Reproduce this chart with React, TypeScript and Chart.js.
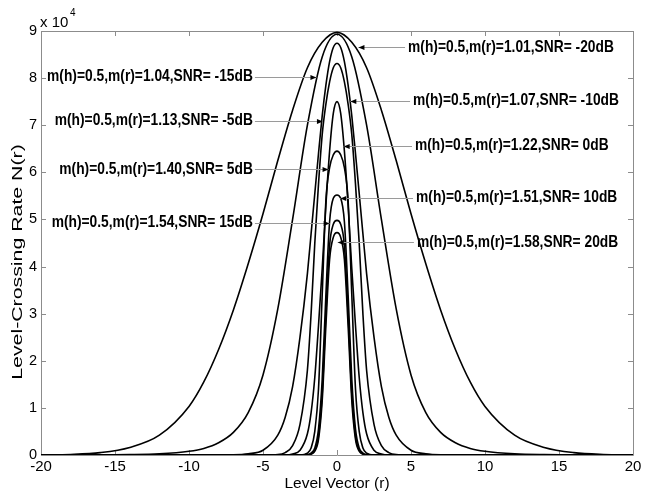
import React, { useEffect, useRef } from 'react';
import { Chart, registerables } from 'chart.js';

Chart.register(...registerables);

// ---- level vector grids ----
const wideR = [-20, -18, -16, -14, -12, -10, -9, -8, -7, -6, -5, -4, -3, -2, -1, 0, 1, 2, 3, 4, 5, 6, 7, 8, 9, 10, 12, 14, 16, 18, 20];
const narrowR = [-20, -10, -7, -6, -5, -4, -3.5, -3, -2.5, -2, -1.75, -1.5, -1.25, -1, -0.75, -0.5, -0.25, 0, 0.25, 0.5, 0.75, 1, 1.25, 1.5, 1.75, 2, 2.5, 3, 3.5, 4, 5, 6, 7, 10, 20];

// ---- level-crossing rate N(r), in units of 10^4 ----
const lcrSnrM20 = [0.002, 0.012, 0.05, 0.16, 0.42, 1.03, 1.55, 2.24, 3.08, 4.06, 5.12, 6.25, 7.32, 8.22, 8.76, 8.97, 8.76, 8.22, 7.32, 6.25, 5.12, 4.06, 3.08, 2.24, 1.55, 1.03, 0.42, 0.16, 0.05, 0.012, 0.002];
const lcrSnrM15 = [0, 0, 0.002, 0.007, 0.025, 0.08, 0.14, 0.26, 0.48, 0.9, 1.7, 3.1, 5.0, 7.0, 8.45, 8.93, 8.45, 7.0, 5.0, 3.1, 1.7, 0.9, 0.48, 0.26, 0.14, 0.08, 0.025, 0.007, 0.002, 0, 0];
const lcrSnrM10 = [0, 0, 0.005, 0.025, 0.1, 0.42, 0.8, 1.45, 2.5, 3.85, 4.7, 5.55, 6.4, 7.2, 7.85, 8.35, 8.65, 8.74, 8.65, 8.35, 7.85, 7.2, 6.4, 5.55, 4.7, 3.85, 2.5, 1.45, 0.8, 0.42, 0.1, 0.025, 0.005, 0, 0];
const lcrSnrM5 = [0, 0, 0, 0, 0.002, 0.01, 0.05, 0.2, 0.65, 1.8, 3.0, 4.5, 5.75, 6.8, 7.45, 7.92, 8.22, 8.31, 8.22, 7.92, 7.45, 6.8, 5.75, 4.5, 3.0, 1.8, 0.65, 0.2, 0.05, 0.01, 0.002, 0, 0, 0, 0];
const lcrSnr0 = [0, 0, 0, 0, 0, 0, 0, 0.02, 0.1, 0.45, 0.9, 1.65, 2.75, 3.95, 5.3, 6.45, 7.25, 7.5, 7.25, 6.45, 5.3, 3.95, 2.75, 1.65, 0.9, 0.45, 0.1, 0.02, 0, 0, 0, 0, 0, 0, 0];
const lcrSnr5 = [0, 0, 0, 0, 0, 0, 0, 0, 0, 0.04, 0.15, 0.5, 1.4, 3.4, 5.4, 6.1, 6.37, 6.45, 6.37, 6.1, 5.4, 3.4, 1.4, 0.5, 0.15, 0.04, 0, 0, 0, 0, 0, 0, 0, 0, 0];
const lcrSnr10 = [0, 0, 0, 0, 0, 0, 0, 0, 0, 0.01, 0.04, 0.15, 0.55, 1.6, 3.4, 4.95, 5.45, 5.52, 5.45, 4.95, 3.4, 1.6, 0.55, 0.15, 0.04, 0.01, 0, 0, 0, 0, 0, 0, 0, 0, 0];
const lcrSnr15 = [0, 0, 0, 0, 0, 0, 0, 0, 0, 0, 0.02, 0.1, 0.4, 1.3, 3.0, 4.45, 4.9, 4.98, 4.9, 4.45, 3.0, 1.3, 0.4, 0.1, 0.02, 0, 0, 0, 0, 0, 0, 0, 0, 0, 0];
const lcrSnr20 = [0, 0, 0, 0, 0, 0, 0, 0, 0, 0, 0.02, 0.08, 0.33, 1.15, 2.75, 4.15, 4.62, 4.72, 4.62, 4.15, 2.75, 1.15, 0.33, 0.08, 0.02, 0, 0, 0, 0, 0, 0, 0, 0, 0, 0];

// ---- axes ----
const xTickValues = [-20, -15, -10, -5, 0, 5, 10, 15, 20];
const yTickValues = [0, 1, 2, 3, 4, 5, 6, 7, 8, 9];
const xTitle = 'Level Vector (r)';
const yTitle = 'Level-Crossing Rate N(r)';
const yExpBase = 'x 10';
const yExpPower = '4';

// ---- annotations ----
const annTexts = [
  'm(h)=0.5,m(r)=1.01,SNR= -20dB',
  'm(h)=0.5,m(r)=1.04,SNR= -15dB',
  'm(h)=0.5,m(r)=1.07,SNR= -10dB',
  'm(h)=0.5,m(r)=1.13,SNR= -5dB',
  'm(h)=0.5,m(r)=1.22,SNR= 0dB',
  'm(h)=0.5,m(r)=1.40,SNR= 5dB',
  'm(h)=0.5,m(r)=1.51,SNR= 10dB',
  'm(h)=0.5,m(r)=1.54,SNR= 15dB',
  'm(h)=0.5,m(r)=1.58,SNR= 20dB',
];
const annSide = ['right', 'left', 'right', 'left', 'right', 'left', 'right', 'left', 'right'];
const annLevel = [8.66, 8.03, 7.52, 7.09, 6.56, 6.07, 5.46, 4.93, 4.52];
const annTipR = [1.45, -1.39, 0.9, -0.95, 0.45, -0.57, 0.22, -0.5, 0.05];
const annTextR = [4.8, -5.68, 5.14, -5.68, 5.27, -5.68, 5.34, -5.68, 5.4];

const curves: [number[], number[]][] = [
  [wideR, lcrSnrM20],
  [wideR, lcrSnrM15],
  [narrowR, lcrSnrM10],
  [narrowR, lcrSnrM5],
  [narrowR, lcrSnr0],
  [narrowR, lcrSnr5],
  [narrowR, lcrSnr10],
  [narrowR, lcrSnr15],
  [narrowR, lcrSnr20],
];

const FONT = '"Liberation Sans", Arial, Helvetica, sans-serif';
const AXIS_GRAY = '#8c8c8c';

const boxPlugin = {
  id: 'boxPlugin',
  beforeDatasetsDraw(chart: any) {
    const { ctx, chartArea: a, scales } = chart;
    const xs = scales.x;
    const ys = scales.y;
    ctx.save();
    ctx.strokeStyle = AXIS_GRAY;
    ctx.lineWidth = 1;
    ctx.beginPath();
    ctx.rect(Math.round(a.left) + 0.5, Math.round(a.top) + 0.5, Math.round(a.right - a.left), Math.round(a.bottom - a.top));
    ctx.stroke();
    const tl = 5;
    ctx.beginPath();
    xTickValues.forEach((v) => {
      const px = Math.round(xs.getPixelForValue(v)) + 0.5;
      ctx.moveTo(px, a.bottom);
      ctx.lineTo(px, a.bottom - tl);
      ctx.moveTo(px, a.top);
      ctx.lineTo(px, a.top + tl);
    });
    yTickValues.forEach((v) => {
      const py = Math.round(ys.getPixelForValue(v)) + 0.5;
      ctx.moveTo(a.left, py);
      ctx.lineTo(a.left + tl, py);
      ctx.moveTo(a.right, py);
      ctx.lineTo(a.right - tl, py);
    });
    ctx.stroke();
    ctx.restore();
  },
  afterDatasetsDraw(chart: any) {
    const { ctx, chartArea: a, scales } = chart;
    const xs = scales.x;
    const ys = scales.y;
    ctx.save();
    ctx.fillStyle = '#000';
    // tick labels
    ctx.font = `14.5px ${FONT}`;
    ctx.textBaseline = 'middle';
    ctx.textAlign = 'right';
    yTickValues.forEach((v) => {
      ctx.fillText(String(v), a.left - 4, ys.getPixelForValue(v));
    });
    ctx.textAlign = 'center';
    ctx.font = `15px ${FONT}`;
    xTickValues.forEach((v) => {
      ctx.fillText(String(v), xs.getPixelForValue(v), a.bottom + 12);
    });
    // axis titles
    ctx.font = `15.5px ${FONT}`;
    ctx.fillText(xTitle, (a.left + a.right) / 2, a.bottom + 29);
    ctx.save();
    ctx.translate(17.5, 262);
    ctx.rotate(-Math.PI / 2);
    ctx.scale(1.42, 1);
    ctx.font = `15px ${FONT}`;
    ctx.fillText(yTitle, 0, 0);
    ctx.restore();
    // exponent
    ctx.textAlign = 'left';
    ctx.font = `15px ${FONT}`;
    ctx.fillText(yExpBase, a.left - 1, 23);
    ctx.font = `10px ${FONT}`;
    ctx.fillText(yExpPower, a.left + 29, 13);
    // annotations
    ctx.font = `bold 13.8px ${FONT}`;
    annTexts.forEach((t, i) => {
      const py = ys.getPixelForValue(annLevel[i]);
      const tipX = xs.getPixelForValue(annTipR[i]);
      const tx = xs.getPixelForValue(annTextR[i]);
      let lineStart: number;
      ctx.save();
      ctx.translate(tx, py);
      ctx.scale(1, 1.18);
      ctx.fillStyle = '#000';
      if (annSide[i] === 'left') {
        ctx.textAlign = 'right';
        ctx.fillText(t, 0, 0);
        lineStart = tx + 2;
      } else {
        ctx.textAlign = 'left';
        ctx.fillText(t, 0, 0);
        lineStart = tx - 3;
      }
      ctx.restore();
      const py2 = Math.round(py) + 0.5;
      ctx.strokeStyle = '#9a9a9a';
      ctx.lineWidth = 1;
      ctx.beginPath();
      ctx.moveTo(lineStart, py2);
      ctx.lineTo(tipX, py2);
      ctx.stroke();
      const dir = annSide[i] === 'left' ? 1 : -1;
      ctx.fillStyle = '#000';
      ctx.beginPath();
      ctx.moveTo(tipX, py2);
      ctx.lineTo(tipX - dir * 6, py2 - 2.5);
      ctx.lineTo(tipX - dir * 6, py2 + 2.5);
      ctx.closePath();
      ctx.fill();
    });
    ctx.restore();
  },
};

export default function App() {
  const ref = useRef<HTMLCanvasElement | null>(null);
  useEffect(() => {
    if (!ref.current) return;
    const chart = new Chart(ref.current, {
      type: 'line',
      data: {
        datasets: curves.map(([xs, ys], i) => ({
          label: annTexts[i],
          data: xs.map((x, j) => ({ x, y: ys[j] })),
          borderColor: '#000',
          borderWidth: 1.6,
          pointRadius: 0,
          fill: false,
          cubicInterpolationMode: 'monotone' as const,
        })),
      },
      options: {
        responsive: false,
        animation: false,
        devicePixelRatio: 1,
        layout: { padding: { left: 41, top: 31, right: 23, bottom: 39 } },
        plugins: { legend: { display: false }, tooltip: { enabled: false } },
        scales: {
          x: { type: 'linear', min: -20, max: 20, display: false },
          y: { type: 'linear', min: 0, max: 9, display: false },
        },
      },
      plugins: [boxPlugin],
    });
    return () => chart.destroy();
  }, []);
  return (
    <div style={{ position: 'fixed', left: 0, top: 0, width: 656, height: 494, background: '#fff' }}>
      <canvas ref={ref} width={656} height={494} style={{ display: 'block' }} />
    </div>
  );
}
